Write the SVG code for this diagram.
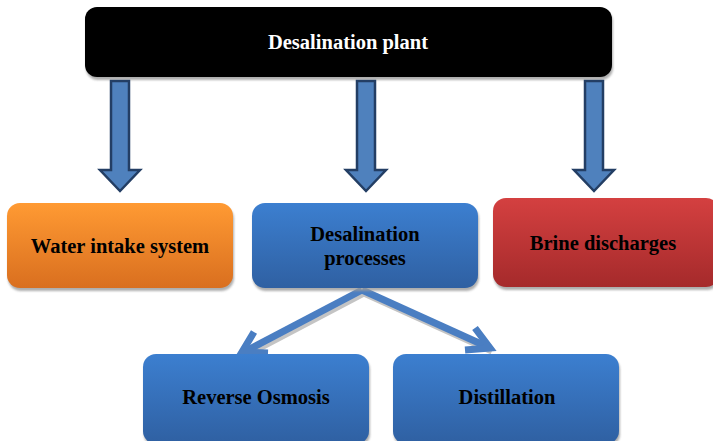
<svg xmlns="http://www.w3.org/2000/svg" width="713" height="441" viewBox="0 0 713 441">
<style>
.t{font-family:"Liberation Serif","Times New Roman",serif;font-weight:bold;font-size:20.5px;text-anchor:middle;fill:#000}
.sh{fill:#9a9a9a;opacity:0.8}
.dn{fill:#4f81bd;stroke:#233e64;stroke-width:2.5;stroke-linejoin:miter}
.ln{fill:none;stroke:#4a7ec2;stroke-width:7;stroke-linecap:butt}
</style>
<defs>
<linearGradient id="gO" x1="0" y1="0" x2="0" y2="1"><stop offset="0" stop-color="#ff9a33"/><stop offset="1" stop-color="#d96f1f"/></linearGradient>
<linearGradient id="gB" x1="0" y1="0" x2="0" y2="1"><stop offset="0" stop-color="#3c7fd0"/><stop offset="1" stop-color="#2f60a2"/></linearGradient>
<linearGradient id="gR" x1="0" y1="0" x2="0" y2="1"><stop offset="0" stop-color="#d44040"/><stop offset="1" stop-color="#a52a2b"/></linearGradient>
<filter id="bl" x="-5%" y="-5%" width="110%" height="120%"><feGaussianBlur stdDeviation="1.2"/></filter>
</defs>
<g id="plant">
<rect x="86" y="10" width="527" height="70" rx="12" class="sh" filter="url(#bl)"/>
<rect x="85" y="7" width="527" height="70" rx="12" fill="#000"/>
<text x="348" y="49" class="t" style="fill:#fff">Desalination plant</text>
</g>
<g id="connectors">
<path class="dn" d="M111,81 H129 V170 H140 L120,191 L100,170 H111 Z"/>
<path class="dn" d="M357,81 H375 V170 H386 L366,191 L346,170 H357 Z"/>
<path class="dn" d="M585,81 H603 V170 H614 L594,191 L574,170 H585 Z"/>
<g opacity="0.35" transform="translate(2,3)">
<path d="M362,290 L244,352 M362,290 L490,348" fill="none" stroke="#555" stroke-width="7"/>
</g>
<path class="ln" d="M362,290 L244,352"/>
<path class="ln" d="M362,290 L490,348"/>
<path class="ln" d="M254,332 L242,352 L268,353" stroke-linejoin="miter"/>
<path class="ln" d="M475,328 L490,348 L465,350" stroke-linejoin="miter"/>
</g>
<g id="water">
<rect x="8" y="206" width="226" height="85" rx="13" class="sh" filter="url(#bl)"/>
<rect x="7" y="203" width="226" height="85" rx="13" fill="url(#gO)"/>
<text x="120" y="253" class="t">Water intake system</text>
</g>
<g id="processes">
<rect x="253" y="206" width="226" height="85" rx="13" class="sh" filter="url(#bl)"/>
<rect x="252" y="203" width="226" height="85" rx="13" fill="url(#gB)"/>
<text x="365" y="241" class="t">Desalination</text>
<text x="365" y="265" class="t">processes</text>
</g>
<g id="brine">
<rect x="494" y="201" width="226" height="89" rx="13" class="sh" filter="url(#bl)"/>
<rect x="493" y="198" width="226" height="89" rx="13" fill="url(#gR)"/>
<text x="603" y="250" class="t">Brine discharges</text>
</g>
<g id="ro">
<rect x="144" y="357" width="226" height="90" rx="13" class="sh" filter="url(#bl)"/>
<rect x="143" y="354" width="226" height="90" rx="13" fill="url(#gB)"/>
<text x="256" y="404" class="t">Reverse Osmosis</text>
</g>
<g id="distillation">
<rect x="394" y="357" width="226" height="90" rx="13" class="sh" filter="url(#bl)"/>
<rect x="393" y="354" width="226" height="90" rx="13" fill="url(#gB)"/>
<text x="507" y="404" class="t">Distillation</text>
</g>
</svg>
